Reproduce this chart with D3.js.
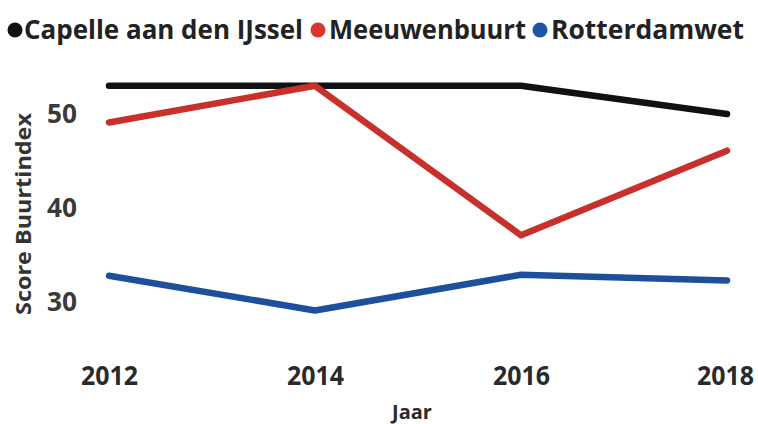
<!DOCTYPE html>
<html><head><meta charset="utf-8">
<script src="https://cdn.jsdelivr.net/npm/d3@7"></script>
<style>html,body{margin:0;padding:0;background:#fff;}svg{display:block;}</style>
</head><body>
<script>
const years = [2012, 2014, 2016, 2018];
const seriesNames = ["Capelle aan den IJssel", "Meeuwenbuurt", "Rotterdamwet"];
const capelle = [53, 53, 53, 50];
const meeuwenbuurt = [49.1, 53, 37.1, 46.1];
const rotterdamwet = [32.8, 29.1, 32.9, 32.3];
const yTicks = [30, 40, 50];
const colors = ["#111111", "#c8302b", "#1d4f9c"];
const legendColors = ["#111111", "#d8352c", "#1c55a6"];

const W = 758, H = 424;
const svg = d3.select("body").append("svg").attr("width", W).attr("height", H);

const x = d3.scaleLinear().domain([2012, 2018]).range([109, 727]);
const y = d3.scaleLinear().domain([30, 50]).range([302, 114]);

const data = [capelle, meeuwenbuurt, rotterdamwet];
const line = d3.line().x((d, i) => x(years[i])).y(d => y(d));

svg.selectAll("path.series").data(data).enter().append("path")
  .attr("class", "series")
  .attr("d", d => line(d))
  .attr("fill", "none")
  .attr("stroke", (d, i) => colors[i])
  .attr("stroke-width", 6.5)
  .attr("stroke-linejoin", "round")
  .attr("stroke-linecap", "round");

// x axis
const xAxis = d3.axisBottom(x).tickValues(years).tickFormat(d3.format("d")).tickSize(0).tickPadding(0);
const gx = svg.append("g").call(xAxis);
gx.select(".domain").remove();
gx.selectAll("text").attr("font-family", "Open Sans, sans-serif").attr("font-weight", "700")
  .attr("font-size", 27).attr("fill", "#2a2a2a").attr("y", 385).attr("dy", null)
  .attr("textLength", 57).attr("lengthAdjust", "spacingAndGlyphs")
  .attr("transform", (d, i) => "translate(" + (i === years.length - 1 ? -30.5 : -28.5) + ",0)")
  .attr("text-anchor", "start");

// y axis
const yAxis = d3.axisLeft(y).tickValues(yTicks).tickSize(0).tickPadding(0);
const gy = svg.append("g").attr("transform", "translate(77,0)").call(yAxis);
gy.select(".domain").remove();
gy.selectAll("text").attr("font-family", "Open Sans, sans-serif").attr("font-weight", "700")
  .attr("font-size", 26).attr("fill", "#3a3a3a")
  .attr("textLength", 30).attr("lengthAdjust", "spacingAndGlyphs");

// axis titles
svg.append("text").attr("x", 412).attr("y", 419).attr("text-anchor", "middle")
  .attr("font-family", "Open Sans, sans-serif").attr("font-weight", "700").attr("font-size", 20)
  .attr("fill", "#2a2a2a").text("Jaar");
svg.append("text").attr("transform", "translate(31,214) rotate(-90)").attr("text-anchor", "middle")
  .attr("font-family", "Open Sans, sans-serif").attr("font-weight", "700").attr("font-size", 22)
  .attr("fill", "#333").attr("textLength", 202).attr("lengthAdjust", "spacingAndGlyphs")
  .text("Score Buurtindex");

// legend
const legendPos = [{cx: 15, tx: 24, tw: 279}, {cx: 318, tx: 329, tw: 197}, {cx: 540, tx: 551, tw: 193}];
const lg = svg.append("g");
seriesNames.forEach((name, i) => {
  lg.append("circle").attr("cx", legendPos[i].cx).attr("cy", 30).attr("r", 7.5).attr("fill", legendColors[i]);
  lg.append("text").attr("x", legendPos[i].tx).attr("y", 39)
    .attr("font-family", "Open Sans, sans-serif").attr("font-weight", "700").attr("font-size", 27)
    .attr("fill", "#222").attr("textLength", legendPos[i].tw).attr("lengthAdjust", "spacingAndGlyphs")
    .text(name);
});
</script>
</body></html>
